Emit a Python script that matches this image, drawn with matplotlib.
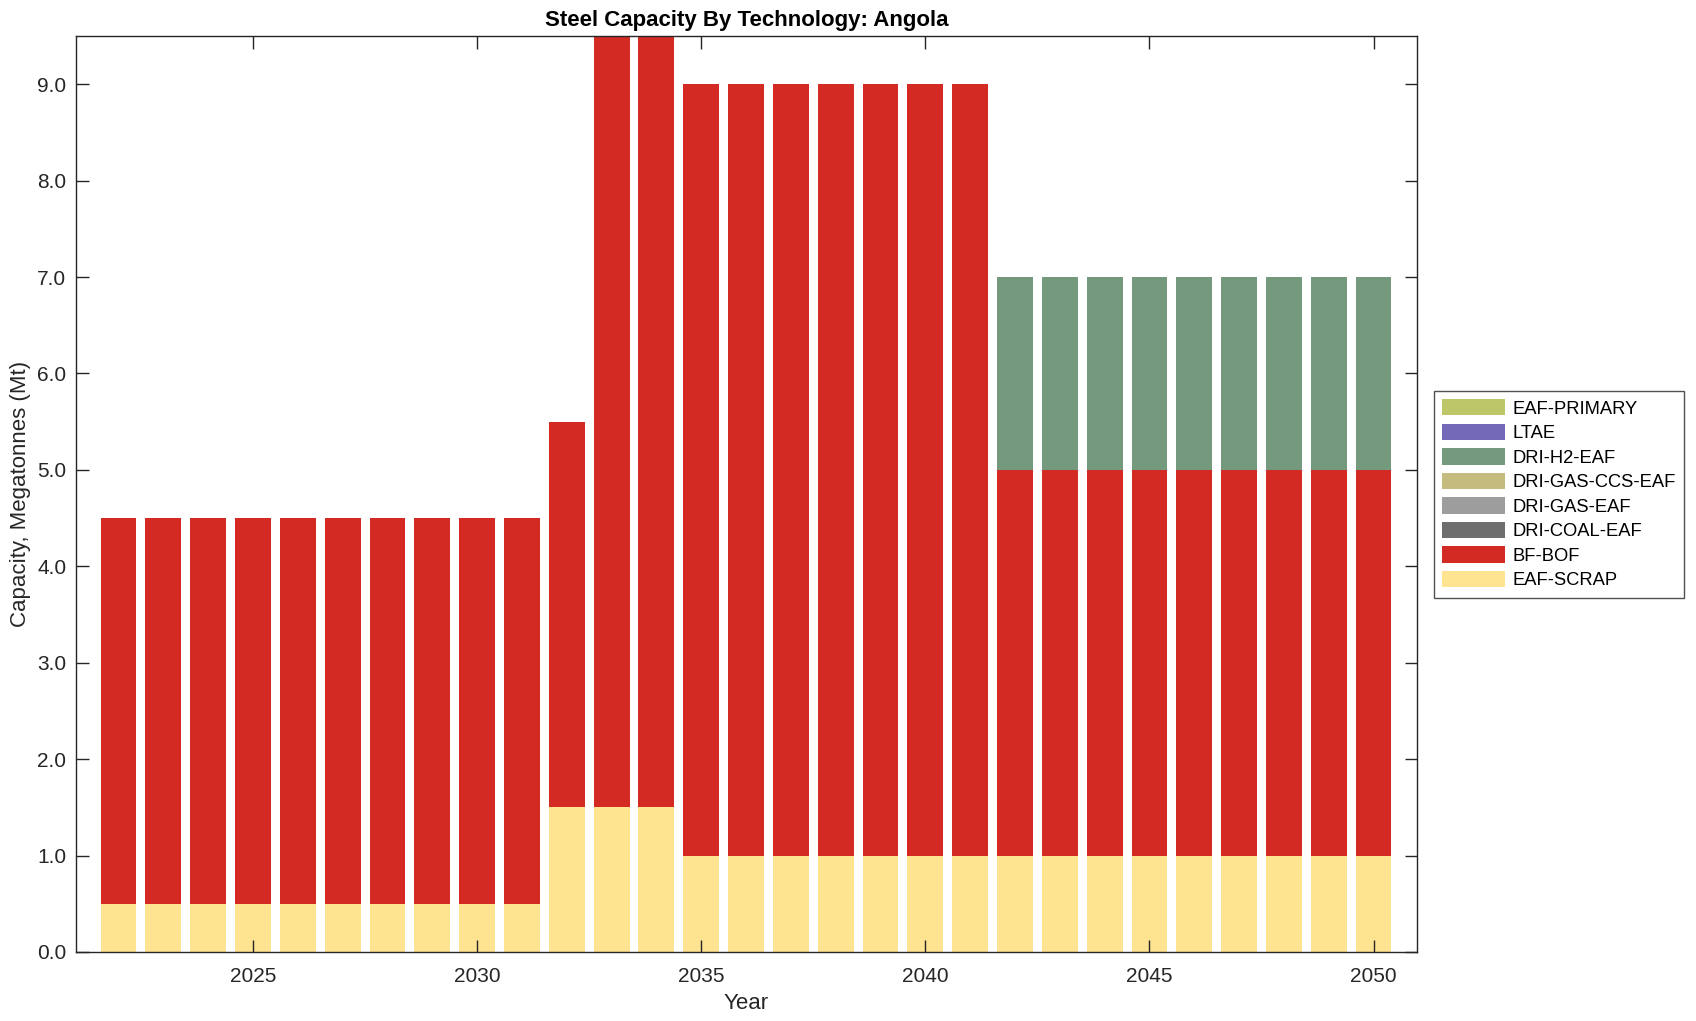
import matplotlib
matplotlib.use('Agg')
import matplotlib.pyplot as plt
import numpy as np

plt.rcParams['font.family'] = ['Liberation Sans', 'DejaVu Sans']

# Data
years = np.arange(2022, 2051)
eaf_scrap = [0.5] * 10 + [1.5] * 3 + [1.0] * 16
bf_bof = [4.0] * 10 + [4.0, 8.5, 8.5] + [8.0] * 7 + [4.0] * 9
dri_coal_eaf = [0.0] * 29
dri_gas_eaf = [0.0] * 29
dri_gas_ccs_eaf = [0.0] * 29
dri_h2_eaf = [0.0] * 20 + [2.0] * 9
ltae = [0.0] * 29
eaf_primary = [0.0] * 29

techs = ['EAF-SCRAP', 'BF-BOF', 'DRI-COAL-EAF', 'DRI-GAS-EAF',
         'DRI-GAS-CCS-EAF', 'DRI-H2-EAF', 'LTAE', 'EAF-PRIMARY']
series = [eaf_scrap, bf_bof, dri_coal_eaf, dri_gas_eaf,
          dri_gas_ccs_eaf, dri_h2_eaf, ltae, eaf_primary]
colors = ['#FEE391', '#D42A24', '#6E6E6E', '#9D9D9D',
          '#C4BB7D', '#74997C', '#7468B8', '#BEC66A']

fig = plt.figure(figsize=(16.96, 10.21), dpi=100)
ax = fig.add_axes([0.0448, 0.0676, 0.7907, 0.8971])

bottom = np.zeros(len(years))
handles = []
for name, vals, col in zip(techs, series, colors):
    vals = np.array(vals, dtype=float)
    h = ax.bar(years, vals, width=0.8, bottom=bottom, color=col,
               edgecolor='none', label=name)
    handles.append(h)
    bottom += vals

ax.set_xlim(2021.05, 2050.97)
ax.set_ylim(0, 9.5)
ax.set_xticks(np.arange(2025, 2051, 5))
ax.set_yticks(np.arange(0, 10, 1.0))
ax.yaxis.set_major_formatter(matplotlib.ticker.FormatStrFormatter('%.1f'))
ax.tick_params(direction='in', length=9, width=1, top=True, right=True,
               labelsize=15, colors='#262626')
ax.tick_params(axis='x', pad=11)
ax.tick_params(axis='y', pad=7)
for sp in ax.spines.values():
    sp.set_color('#262626')
    sp.set_linewidth(1)

ax.set_title('Steel Capacity By Technology: Angola', fontsize=16,
             fontweight='bold', pad=7)
ax.set_xlabel('Year', fontsize=16, color='#262626', labelpad=5)
ax.set_ylabel('Capacity, Megatonnes (Mt)', fontsize=16, color='#262626', labelpad=4)

leg = fig.legend(handles[::-1], techs[::-1], loc='center left',
                 bbox_to_anchor=(0.8455, 0.516), fontsize=13.2,
                 frameon=True, fancybox=False, edgecolor='#262626',
                 handlelength=3.4, handleheight=1.0, handletextpad=0.45,
                 labelspacing=0.33, borderpad=0.45, borderaxespad=0)
leg.get_frame().set_linewidth(1)

fig.savefig('out.png', dpi=100)
